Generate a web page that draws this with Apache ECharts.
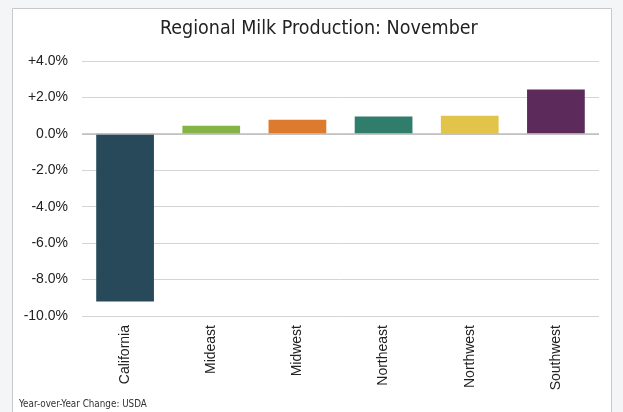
<!DOCTYPE html>
<html><head><meta charset="utf-8">
<script src="https://cdn.jsdelivr.net/npm/echarts@6/dist/echarts.min.js"></script>
<style>html,body{margin:0;padding:0;background:#f4f5f7}#c{width:623px;height:412px}</style>
</head><body><div id="c"></div>
<script>
const categories = ['California','Mideast','Midwest','Northeast','Northwest','Southwest'];
const values = [-9.2, 0.44, 0.77, 0.95, 0.99, 2.43];
const colors = ['#27495a','#84b446','#dc7a2e','#2f7d6a','#e3c44a','#5c2b5c'];
const titleText = 'Regional Milk Production: November';
const footText = 'Year-over-Year Change: USDA';
const narrow = '"Liberation Sans Narrow", "Arial Narrow", "DejaVu Sans Condensed", sans-serif';
const sans = '"Liberation Sans", Arial, sans-serif';

const chart = echarts.init(document.getElementById('c'));
chart.setOption({
  backgroundColor: '#f4f5f7',
  animation: false,
  graphic: [
    {type:'rect', z:-10, shape:{x:12.5,y:8.5,width:599,height:420}, style:{fill:'#ffffff', stroke:'#c8c8c8', lineWidth:1}},
    {type:'text', left:19, top:399, style:{text:footText, fill:'#333', font:'9.8px '+narrow}}
  ],
  title: {text:titleText, left:155, top:14, textStyle:{fontFamily:narrow, fontWeight:'normal', fontSize:19.5, color:'#222'}},
  grid: {left:82, right:24, top:61, bottom:96, containLabel:false},
  xAxis: {
    type:'category', data:categories,
    axisLine:{show:false}, axisTick:{show:false},
    axisLabel:{rotate:90, color:'#222', fontSize:14, fontFamily:sans, margin:9, interval:0}
  },
  yAxis: {
    type:'value', min:-10, max:4, interval:2,
    axisLine:{show:false}, axisTick:{show:false},
    splitLine:{lineStyle:{color:'#d4d4d4', width:1}},
    axisLabel:{color:'#222', fontSize:14, fontFamily:sans, margin:14,
      formatter: v => (v>0?'+':'') + v.toFixed(1) + '%'}
  },
  series: [{
    type:'bar', barWidth:'67%',
    data: values.map((v,i)=>({value:v, itemStyle:{color:colors[i]}})),
    markLine:{silent:true, symbol:'none', label:{show:false}, lineStyle:{color:'#bdbdbd', type:'solid', width:1.5}, data:[{yAxis:0}]}
  }]
});
</script></body></html>
